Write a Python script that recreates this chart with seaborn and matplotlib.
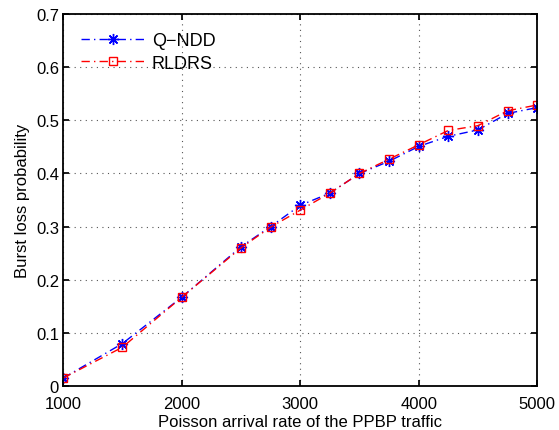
import matplotlib
matplotlib.use("Agg")
import matplotlib.pyplot as plt
import pandas as pd
import seaborn as sns

arrival_rate = [1000, 1500, 2000, 2500, 2750, 3000, 3250, 3500, 3750, 4000, 4250, 4500, 4750, 5000]
q_ndd = [0.015, 0.080, 0.167, 0.262, 0.300, 0.340, 0.363, 0.400, 0.423, 0.451, 0.470, 0.482, 0.513, 0.524]
rldrs = [0.015, 0.073, 0.167, 0.260, 0.299, 0.331, 0.363, 0.400, 0.427, 0.454, 0.481, 0.490, 0.518, 0.529]

df = pd.DataFrame({
    "rate": arrival_rate * 2,
    "prob": q_ndd + rldrs,
    "scheme": ["Q\u2212NDD"] * len(q_ndd) + ["RLDRS"] * len(rldrs),
})

sns.set_theme(style="white")
plt.rcParams["font.family"] = ["Liberation Sans", "DejaVu Sans"]
plt.rcParams["text.color"] = "black"
plt.rcParams["axes.labelcolor"] = "black"

fig = plt.figure(figsize=(5.59, 4.31), dpi=100)
ax = fig.add_axes([0.113, 0.102, 0.848, 0.863])

sns.lineplot(
    data=df, x="rate", y="prob", hue="scheme", style="scheme",
    palette={"Q\u2212NDD": "blue", "RLDRS": "red"},
    markers={"Q\u2212NDD": "o", "RLDRS": "s"},
    dashes={"Q\u2212NDD": (6, 3, 1, 3), "RLDRS": (6, 3, 1, 3)},
    ax=ax, linewidth=1.0, markersize=7, markeredgewidth=1.0,
)


def fix_marker(line):
    # MATLAB-like markers: open red squares, blue 8-spoke asterisks
    if line.get_color() == "red":
        line.set_markerfacecolor("none")
        line.set_markeredgecolor("red")
        line.set_markersize(6)
    else:
        line.set_marker((8, 2, 0))
        line.set_markeredgecolor("blue")
        line.set_markersize(8)


for line in ax.lines:
    fix_marker(line)

ax.set_xlim(1000, 5000)
ax.set_ylim(0, 0.7)
ax.set_xticks([1000, 2000, 3000, 4000, 5000])
ax.set_yticks([0, 0.1, 0.2, 0.3, 0.4, 0.5, 0.6, 0.7])
ax.set_yticklabels(["0", "0.1", "0.2", "0.3", "0.4", "0.5", "0.6", "0.7"])
ax.grid(True, linestyle=(0, (1, 4)), color="#555555", linewidth=0.8)
for s in ax.spines.values():
    s.set_color("black")
    s.set_linewidth(1.3)
ax.tick_params(direction="in", length=4, labelsize=12, colors="black", top=True, right=True,
               bottom=True, left=True)
ax.tick_params(axis="x", pad=7)
ax.tick_params(axis="y", pad=3)
ax.set_xlabel("Poisson arrival rate of the PPBP traffic", fontsize=12, labelpad=2)
ax.set_ylabel("Burst loss probability", fontsize=12, labelpad=4)

handles, labels = ax.get_legend_handles_labels()
for h in handles:
    fix_marker(h)
ax.legend(handles, labels, loc="upper left", frameon=False, fontsize=13,
          handlelength=3.5, borderaxespad=0.6, labelspacing=0.3, handletextpad=0.4)

fig.savefig("out.png", dpi=100)
